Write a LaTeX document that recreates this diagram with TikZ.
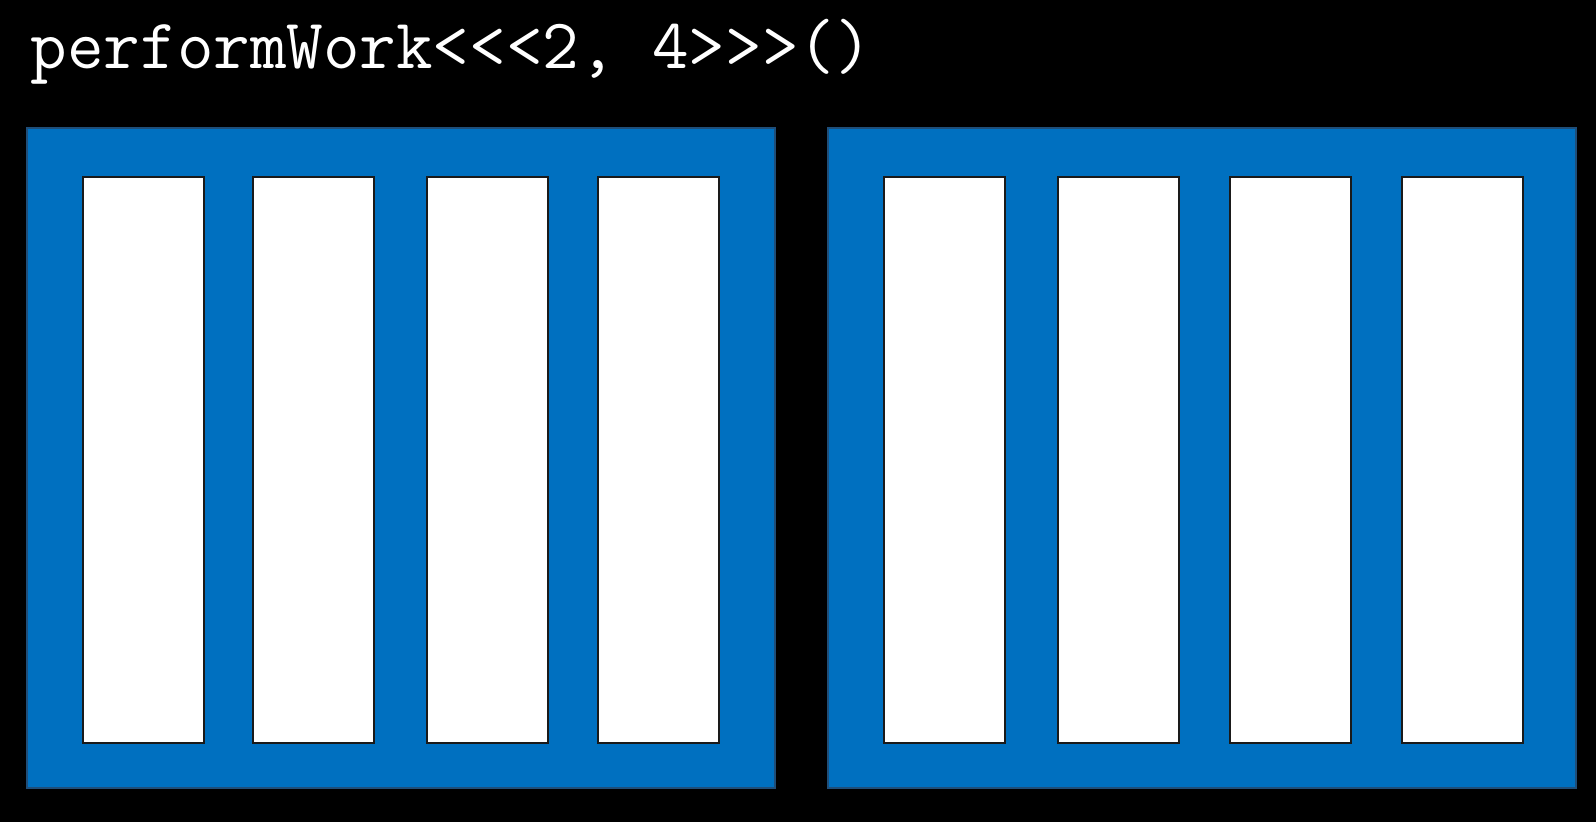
\documentclass[tikz,border=0pt]{standalone}
\usepackage{fontspec}
\usepackage{xcolor}
\definecolor{blockblue}{HTML}{0070C0}
\definecolor{blockedge}{HTML}{1F4E79}
\definecolor{threadedge}{HTML}{1A1A1A}

\begin{document}
\begin{tikzpicture}
[x=1pt,y=-1pt,line width=1.5pt,
block/.style={draw=blockedge,fill=blockblue,minimum width=748pt,minimum height=660pt,inner sep=0pt,anchor=north west},
thread/.style={draw=threadedge,fill=white,line width=2pt,minimum width=121pt,minimum height=566pt,inner sep=0pt,anchor=north west}]

\fill[black] (0,0) rectangle (1596,822); %background
\useasboundingbox (0,0) rectangle (1596,822);

\node[anchor=base west,inner sep=0pt,text=white,font=\fontsize{71}{80}\selectfont\ttfamily] (call) at (30,68) {performWork{<}{<}{<}2, 4{>}{>}{>}()};

\node[block] (block0) at (26,127) {}; %block 0
\node[block] (block1) at (827,127) {}; %block 1

\node[thread] (b0t0) at (82,176) {};
\node[thread] (b0t1) at (252,176) {};
\node[thread] (b0t2) at (426,176) {};
\node[thread] (b0t3) at (597,176) {};

\node[thread] (b1t0) at (883,176) {};
\node[thread] (b1t1) at (1057,176) {};
\node[thread] (b1t2) at (1229,176) {};
\node[thread] (b1t3) at (1401,176) {};

\end{tikzpicture}
\end{document}
